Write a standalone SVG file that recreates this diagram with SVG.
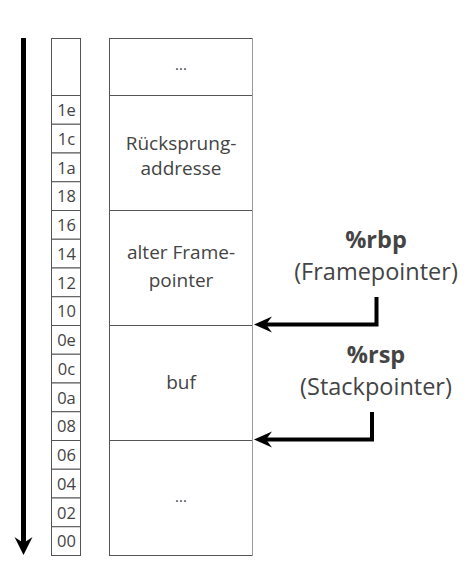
<svg xmlns="http://www.w3.org/2000/svg" width="471" height="587" viewBox="0 0 471 587">
<defs>
<style>
.cell{fill:#fff;stroke:#555;stroke-width:1}
.addr{font-family:"Open Sans","Noto Sans",sans-serif;font-size:16.5px;fill:#444;text-anchor:middle}
.lbl{font-family:"Open Sans","Noto Sans",sans-serif;font-size:19px;fill:#444;text-anchor:middle}
.dots{font-family:"Open Sans","Noto Sans",sans-serif;font-size:15px;fill:#444;text-anchor:middle}
.reg{font-family:"Open Sans","Noto Sans",sans-serif;font-size:23.5px;fill:#444;text-anchor:middle}
.regb{font-weight:bold}
.ptr{fill:none;stroke:#000;stroke-width:4}
</style>
<marker id="head" markerUnits="userSpaceOnUse" orient="auto" markerWidth="40" markerHeight="40" refX="0" refY="0" overflow="visible" viewBox="-20 -20 40 40">
<path d="M8,0 L-10,-8 L-4,0 L-10,8 Z" fill="#000"/>
</marker>
<marker id="headL" markerUnits="userSpaceOnUse" orient="auto" markerWidth="40" markerHeight="40" refX="0" refY="0" overflow="visible" viewBox="-20 -20 40 40">
<path d="M8,0 L-10,-9 L-4,0 L-10,9 Z" fill="#000"/>
</marker>
</defs>
<rect width="471" height="587" fill="#fff"/>

<g id="direction-arrow">
<line x1="23.5" y1="38" x2="23.5" y2="547" stroke="#000" stroke-width="5" marker-end="url(#headL)"/>
</g>

<g id="address-column">
<rect class="cell" x="51.5" y="38.5" width="29" height="57"/>
<rect class="cell" x="51.5" y="95.5" width="29" height="28.75"/>
<rect class="cell" x="51.5" y="124.25" width="29" height="28.75"/>
<rect class="cell" x="51.5" y="153" width="29" height="28.75"/>
<rect class="cell" x="51.5" y="181.75" width="29" height="28.75"/>
<rect class="cell" x="51.5" y="210.5" width="29" height="28.75"/>
<rect class="cell" x="51.5" y="239.25" width="29" height="28.75"/>
<rect class="cell" x="51.5" y="268" width="29" height="28.75"/>
<rect class="cell" x="51.5" y="296.75" width="29" height="28.75"/>
<rect class="cell" x="51.5" y="325.5" width="29" height="28.75"/>
<rect class="cell" x="51.5" y="354.25" width="29" height="28.75"/>
<rect class="cell" x="51.5" y="383" width="29" height="28.75"/>
<rect class="cell" x="51.5" y="411.75" width="29" height="28.75"/>
<rect class="cell" x="51.5" y="440.5" width="29" height="28.75"/>
<rect class="cell" x="51.5" y="469.25" width="29" height="28.75"/>
<rect class="cell" x="51.5" y="498" width="29" height="28.75"/>
<rect class="cell" x="51.5" y="526.75" width="29" height="28.75"/>
<text class="addr" x="66.5" y="116">1e</text>
<text class="addr" x="66.5" y="144.75">1c</text>
<text class="addr" x="66.5" y="173.5">1a</text>
<text class="addr" x="66.5" y="202.25">18</text>
<text class="addr" x="66.5" y="231">16</text>
<text class="addr" x="66.5" y="259.75">14</text>
<text class="addr" x="66.5" y="288.5">12</text>
<text class="addr" x="66.5" y="317.25">10</text>
<text class="addr" x="66.5" y="346">0e</text>
<text class="addr" x="66.5" y="374.75">0c</text>
<text class="addr" x="66.5" y="403.5">0a</text>
<text class="addr" x="66.5" y="432.25">08</text>
<text class="addr" x="66.5" y="461">06</text>
<text class="addr" x="66.5" y="489.75">04</text>
<text class="addr" x="66.5" y="518.5">02</text>
<text class="addr" x="66.5" y="547.25">00</text>
</g>

<g id="box-top">
<rect class="cell" x="109.5" y="38.5" width="143" height="57"/>
<text class="dots" x="181" y="70">...</text>
</g>
<g id="box-return">
<rect class="cell" x="109.5" y="95.5" width="143" height="115"/>
<text class="lbl" x="181" y="150">Rücksprung-</text>
<text class="lbl" x="181" y="175">addresse</text>
</g>
<g id="box-oldframe">
<rect class="cell" x="109.5" y="210.5" width="143" height="115"/>
<text class="lbl" x="181" y="259">alter Frame-</text>
<text class="lbl" x="181" y="287">pointer</text>
</g>
<g id="box-buf">
<rect class="cell" x="109.5" y="325.5" width="143" height="115"/>
<text class="lbl" x="181" y="389">buf</text>
</g>
<g id="box-bottom">
<rect class="cell" x="109.5" y="440.5" width="143" height="115"/>
<text class="dots" x="181" y="502">...</text>
</g>
<line x1="252.5" y1="38" x2="252.5" y2="556" stroke="#999" stroke-width="1"/>

<g id="label-rbp">
<text class="reg regb" x="376" y="248">%rbp</text>
<text class="reg" x="376" y="280">(Framepointer)</text>
</g>
<g id="label-rsp">
<text class="reg regb" x="376" y="363">%rsp</text>
<text class="reg" x="376" y="395">(Stackpointer)</text>
</g>

<g id="connectors">
<path class="ptr" d="M376.5,297 V324.5 H262" marker-end="url(#head)"/>
<path class="ptr" d="M372,412 V439.5 H262" marker-end="url(#head)"/>
</g>
</svg>
